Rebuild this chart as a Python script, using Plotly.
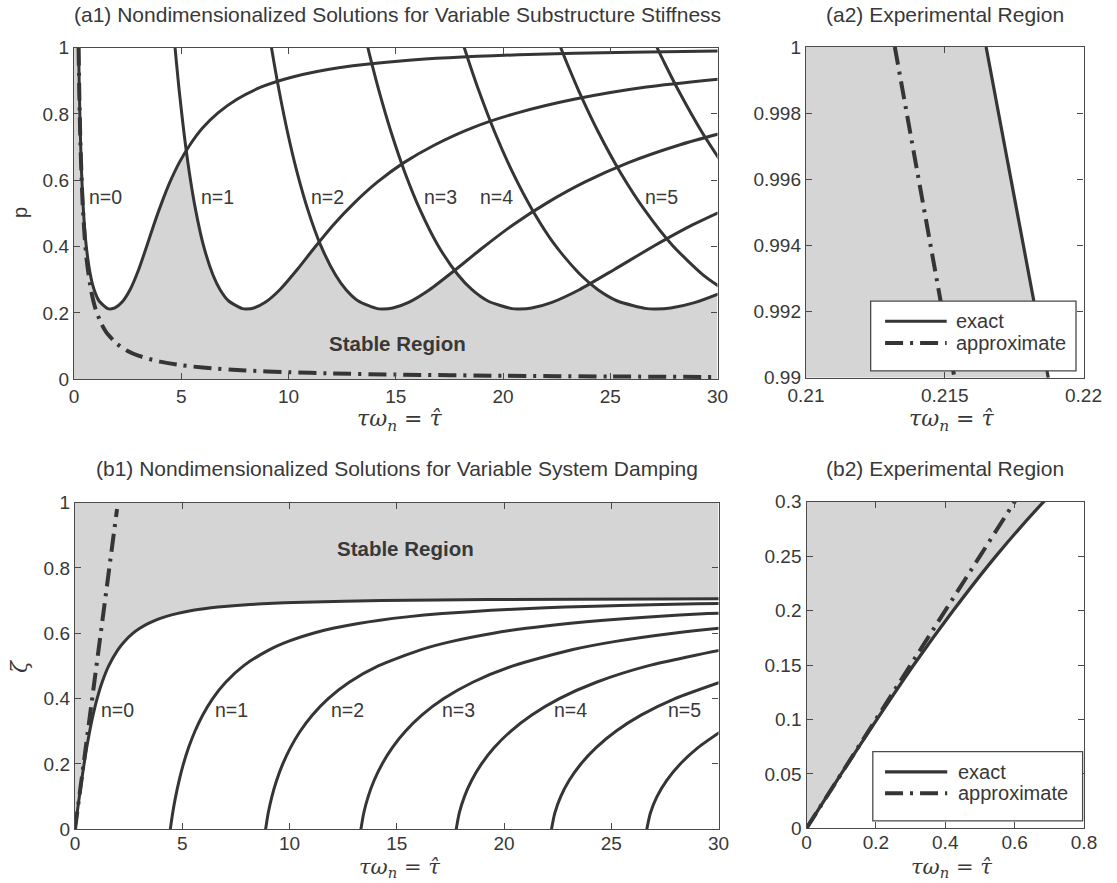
import plotly.graph_objects as go

# ======================= DATA =======================
# (a1) p along the solution curves (shared by every n) and tau-hat of each branch
a1_p = [1.000, 0.978, 0.951, 0.871, 0.743, 0.622, 0.509, 0.405, 0.315, 0.270, 0.236,
        0.213, 0.212, 0.215, 0.232, 0.270, 0.331, 0.398, 0.466, 0.531, 0.594, 0.653,
        0.707, 0.758, 0.803, 0.844, 0.881, 0.912, 0.939, 0.961, 0.978, 0.986, 0.990]
a1_tau_n0 = [0.216, 0.221, 0.228, 0.249, 0.294, 0.354, 0.438, 0.565, 0.764, 0.939, 1.171,
             1.571, 1.697, 1.906, 2.231, 2.613, 3.016, 3.374, 3.722, 4.082, 4.471, 4.907,
             5.409, 6.001, 6.715, 7.601, 8.734, 10.238, 12.339, 15.486, 20.726, 25.964, 31.201]
a1_tau_n1 = [4.711, 4.742, 4.781, 4.903, 5.127, 5.380, 5.674, 6.028, 6.475, 6.811, 7.213,
             7.854, 8.053, 8.384, 8.916, 9.594, 10.408, 11.228, 12.099, 13.058, 14.138,
             15.380, 16.833, 18.567, 20.678, 23.309, 26.686, 31.182]
a1_tau_n2 = [9.205, 9.262, 9.334, 9.558, 9.960, 10.407, 10.910, 11.492, 12.187, 12.683,
             13.254, 14.137, 14.409, 14.861, 15.600, 16.575, 17.800, 19.082, 20.477,
             22.034, 23.804, 25.851, 28.257, 31.134]
a1_tau_n3 = [13.699, 13.782, 13.887, 14.212, 14.793, 15.433, 16.146, 16.956, 17.899,
             18.555, 19.296, 20.420, 20.765, 21.339, 22.284, 23.557, 25.192, 26.936,
             28.854, 31.010]
a1_tau_n4 = [18.193, 18.302, 18.440, 18.866, 19.626, 20.460, 21.382, 22.419, 23.611,
             24.427, 25.337, 26.704, 27.120, 27.816, 28.968, 30.538]
a1_tau_n5 = [22.687, 22.823, 22.993, 23.520, 24.460, 25.486, 26.618, 27.883, 29.323, 30.300]
a1_tau_n6 = [27.181, 27.343, 27.546, 28.175, 29.293, 30.513]

a1_approx_tau = [0.2132, 0.25, 0.3, 0.4, 0.5, 0.6, 0.8, 1.0, 1.25, 1.5, 2, 2.5, 3, 4, 5,
                 6, 8, 10, 12, 15, 20, 25, 30]
a1_approx_p = [1.0, 0.853, 0.711, 0.533, 0.426, 0.355, 0.267, 0.213, 0.171, 0.142, 0.107,
               0.0853, 0.0711, 0.0533, 0.0426, 0.0355, 0.0267, 0.0213, 0.0178, 0.0142,
               0.0107, 0.0085, 0.0071]

# lower envelope of all branches = stable region of (a1)
a1_stable_tau = [0, 0, 0.216, 0.221, 0.228, 0.249, 0.294, 0.354, 0.438, 0.565, 0.764,
                 0.939, 1.171, 1.571, 1.697, 1.906, 2.231, 2.613, 3.016, 3.374, 3.722,
                 4.082, 4.471, 4.907, 5.241, 5.380, 5.674, 6.028, 6.475, 6.811, 7.213,
                 7.854, 8.053, 8.384, 8.916, 9.594, 10.408, 11.228, 11.438, 11.492,
                 12.187, 12.683, 13.254, 14.137, 14.409, 14.861, 15.600, 16.575, 17.751,
                 17.899, 18.555, 19.296, 20.420, 20.765, 21.339, 22.284, 23.557, 24.075,
                 24.427, 25.337, 26.704, 27.120, 27.816, 28.968, 30, 30]
a1_stable_p = [0, 1, 1.000, 0.978, 0.951, 0.871, 0.743, 0.622, 0.509, 0.405, 0.315,
               0.270, 0.236, 0.213, 0.212, 0.215, 0.232, 0.270, 0.331, 0.398, 0.466,
               0.531, 0.594, 0.653, 0.689, 0.622, 0.509, 0.405, 0.315, 0.270, 0.236,
               0.213, 0.212, 0.215, 0.232, 0.270, 0.331, 0.398, 0.415, 0.405,
               0.315, 0.270, 0.236, 0.213, 0.212, 0.215, 0.232, 0.270, 0.329,
               0.315, 0.270, 0.236, 0.213, 0.212, 0.215, 0.232, 0.270, 0.289,
               0.270, 0.236, 0.213, 0.212, 0.215, 0.232, 0.257, 0]

a1_labels = ["n=0", "n=1", "n=2", "n=3", "n=4", "n=5"]
a1_label_tau = [1.47, 6.68, 11.8, 17.1, 19.7, 27.4]
a1_label_p = [0.55, 0.55, 0.55, 0.55, 0.55, 0.55]

# (a2) zoom of the experimental region
a2_p = [1.0, 0.995, 0.99]
a2_exact_tau = [0.21649, 0.21761, 0.21873]
a2_approx_tau = [0.21320, 0.21427, 0.21535]
a2_stable_tau = [0.21, 0.21, 0.21649, 0.21873]
a2_stable_p = [0.99, 1.0, 1.0, 0.99]

# (b1) damping ratio zeta along the solution curves (shared by every n)
b1_zeta = [0, 0.05, 0.1, 0.15, 0.2, 0.25, 0.3, 0.35, 0.4, 0.45, 0.5, 0.55, 0.575, 0.6,
           0.615, 0.63, 0.64, 0.65, 0.66, 0.67, 0.675, 0.68, 0.685, 0.69, 0.695, 0.7,
           0.703, 0.705, 0.706]
b1_tau_n0 = [0, 0.100, 0.203, 0.309, 0.423, 0.546, 0.684, 0.843, 1.031, 1.265, 1.571,
             2.005, 2.307, 2.708, 3.022, 3.424, 3.764, 4.189, 4.743, 5.509, 6.021, 6.668,
             7.525, 8.735, 10.634, 14.289, 19.225, 27.383, 38.304]
b1_tau_n1 = [4.443, 4.554, 4.691, 4.856, 5.055, 5.296, 5.591, 5.956, 6.419, 7.024, 7.854,
             9.074, 9.941, 11.104, 12.025, 13.208, 14.212, 15.474, 17.123, 19.407, 20.934,
             22.870, 25.433, 29.056, 34.747]
b1_tau_n2 = [8.886, 9.008, 9.179, 9.402, 9.687, 10.046, 10.497, 11.069, 11.807, 12.784,
             14.137, 16.144, 17.574, 19.500, 21.028, 22.992, 24.661, 26.759, 29.503, 33.305]
b1_tau_n3 = [13.329, 13.462, 13.667, 13.948, 14.319, 14.795, 15.403, 16.182, 17.195,
             18.544, 20.420, 23.213, 25.208, 27.897, 30.030, 32.776]
b1_tau_n4 = [17.772, 17.916, 18.155, 18.495, 18.951, 19.545, 20.310, 21.296, 22.582,
             24.304, 26.704, 30.282, 32.841]
b1_tau_n5 = [22.214, 22.371, 22.643, 23.041, 23.583, 24.295, 25.216, 26.409, 27.970, 30.064]
b1_tau_n6 = [26.657, 26.825, 27.131, 27.587, 28.215, 29.044, 30.122]

b1_approx_tau = [0, 1.96]
b1_approx_zeta = [0, 0.98]

b1_stable_tau = [0, 0, 0.100, 0.203, 0.309, 0.423, 0.546, 0.684, 0.843, 1.031, 1.265,
                 1.571, 2.005, 2.307, 2.708, 3.022, 3.424, 3.764, 4.189, 4.743, 5.509,
                 6.021, 6.668, 7.525, 8.735, 10.634, 14.289, 19.225, 27.383, 30, 30]
b1_stable_zeta = [1, 0, 0.05, 0.1, 0.15, 0.2, 0.25, 0.3, 0.35, 0.4, 0.45, 0.5, 0.55,
                  0.575, 0.6, 0.615, 0.63, 0.64, 0.65, 0.66, 0.67, 0.675, 0.68, 0.685,
                  0.69, 0.695, 0.7, 0.703, 0.705, 0.7052, 1]

b1_labels = ["n=0", "n=1", "n=2", "n=3", "n=4", "n=5"]
b1_label_tau = [1.98, 7.3, 12.7, 17.86, 23.1, 28.4]
b1_label_zeta = [0.365, 0.365, 0.365, 0.365, 0.365, 0.365]

# tick values / labels
a1_xticks = [0, 5, 10, 15, 20, 25, 30]
a1_xticktext = ["0", "5", "10", "15", "20", "25", "30"]
a1_yticks = [0, 0.2, 0.4, 0.6, 0.8, 1]
a1_yticktext = ["0", "0.2", "0.4", "0.6", "0.8", "1"]
a2_xticks = [0.21, 0.215, 0.22]
a2_xticktext = ["0.21", "0.215", "0.22"]
a2_yticks = [0.99, 0.992, 0.994, 0.996, 0.998, 1.0]
a2_yticktext = ["0.99", "0.992", "0.994", "0.996", "0.998", "1"]
b2_xticks = [0, 0.2, 0.4, 0.6, 0.8]
b2_xticktext = ["0", "0.2", "0.4", "0.6", "0.8"]
b2_yticks = [0, 0.05, 0.1, 0.15, 0.2, 0.25, 0.3]
b2_yticktext = ["0", "0.05", "0.1", "0.15", "0.2", "0.25", "0.3"]

# ======================= STYLE =======================
W, H = 1117, 883
LINE = "#353535"
AXC = "#4a4a4a"
SHADE = "#d5d5d5"
TXT = "#383838"
SANS = "Liberation Sans, Arial, Helvetica, sans-serif"
SERIF = "DejaVu Serif, Liberation Serif, serif"
DASHDOT = "18px,7px,3px,7px"


def px_x(v):
    return v / W


def px_y(v):
    return 1 - v / H


fig = go.Figure()


def add_line(x, y, xa, ya, width=3.0, dash="solid", shape="spline"):
    fig.add_trace(go.Scatter(x=x, y=y, mode="lines", xaxis=xa, yaxis=ya,
                             line=dict(color=LINE, width=width, dash=dash, shape=shape,
                                       smoothing=0.7 if shape == "spline" else None),
                             showlegend=False, hoverinfo="skip"))


def add_fill(x, y, xa, ya):
    fig.add_trace(go.Scatter(x=x, y=y, mode="lines", fill="toself", fillcolor=SHADE,
                             line=dict(width=0, color=SHADE), xaxis=xa, yaxis=ya,
                             showlegend=False, hoverinfo="skip"))


# ---- (a1)
add_fill(a1_stable_tau, a1_stable_p, "x", "y")
for tau in [a1_tau_n0, a1_tau_n1, a1_tau_n2, a1_tau_n3, a1_tau_n4, a1_tau_n5, a1_tau_n6]:
    add_line(tau, a1_p[:len(tau)], "x", "y")
add_line(a1_approx_tau, a1_approx_p, "x", "y", width=4, dash=DASHDOT)

# ---- (a2)
add_fill(a2_stable_tau, a2_stable_p, "x2", "y2")
add_line(a2_exact_tau, a2_p, "x2", "y2", width=3.2, shape="linear")
add_line(a2_approx_tau, a2_p, "x2", "y2", width=4, dash=DASHDOT, shape="linear")

# ---- (b1)
add_fill(b1_stable_tau, b1_stable_zeta, "x3", "y3")
for tau in [b1_tau_n0, b1_tau_n1, b1_tau_n2, b1_tau_n3, b1_tau_n4, b1_tau_n5, b1_tau_n6]:
    add_line(tau, b1_zeta[:len(tau)], "x3", "y3")
add_line(b1_approx_tau, b1_approx_zeta, "x3", "y3", width=4, dash=DASHDOT, shape="linear")

# ---- (b2)
add_fill(b1_stable_tau, b1_stable_zeta, "x4", "y4")
add_line(b1_tau_n0, b1_zeta, "x4", "y4", width=3.2)
add_line(b1_approx_tau, b1_approx_zeta, "x4", "y4", width=4, dash=DASHDOT, shape="linear")


def axis(domain, rng, tickvals, ticktext, anchor, standoff=0):
    return dict(domain=domain, range=rng, tickvals=tickvals, ticktext=ticktext,
                anchor=anchor, automargin=False, showline=True, linecolor=AXC,
                linewidth=1.4, mirror="ticks", ticks="inside", ticklen=6, tickwidth=1.2,
                tickcolor=AXC, showgrid=False, zeroline=False, fixedrange=True,
                ticklabelstandoff=standoff,
                tickfont=dict(family=SANS, size=19, color=TXT))


# pixel boxes of the four panels
a1_box = (74.0, 717.5, 47.5, 379.3)
a2_box = (806.0, 1083.5, 47.0, 377.8)
b1_box = (75.0, 718.5, 502.5, 829.3)
b2_box = (806.5, 1084.0, 501.7, 828.3)


def dom(box):
    x0, x1, yt, yb = box
    return [px_x(x0), px_x(x1)], [px_y(yb), px_y(yt)]


d_a1 = dom(a1_box)
d_a2 = dom(a2_box)
d_b1 = dom(b1_box)
d_b2 = dom(b2_box)

fig.update_layout(
    template="none",
    width=W, height=H, margin=dict(l=0, r=0, t=0, b=0, autoexpand=False),
    paper_bgcolor="white", plot_bgcolor="white", hovermode=False,
    xaxis=axis(d_a1[0], [0, 30], a1_xticks, a1_xticktext, "y"),
    yaxis=axis(d_a1[1], [0, 1], a1_yticks, a1_yticktext, "x"),
    xaxis2=axis(d_a2[0], [0.21, 0.22], a2_xticks, a2_xticktext, "y2"),
    yaxis2=axis(d_a2[1], [0.99, 1.0], a2_yticks, a2_yticktext, "x2"),
    xaxis3=axis(d_b1[0], [0, 30], a1_xticks, a1_xticktext, "y3", standoff=-3),
    yaxis3=axis(d_b1[1], [0, 1], a1_yticks, a1_yticktext, "x3"),
    xaxis4=axis(d_b2[0], [0, 0.8], b2_xticks, b2_xticktext, "y4", standoff=-3),
    yaxis4=axis(d_b2[1], [0, 0.3], b2_yticks, b2_yticktext, "x4"),
)

ann = []


def text(x, y, s, size=19, family=SANS, xref="paper", yref="paper", xanchor="center",
         yanchor="middle", angle=0):
    ann.append(dict(x=x, y=y, text=s, xref=xref, yref=yref, showarrow=False,
                    xanchor=xanchor, yanchor=yanchor, textangle=angle,
                    font=dict(family=family, size=size, color=TXT)))


# panel titles
text(px_x(397), px_y(15), "(a1) Nondimensionalized Solutions for Variable Substructure Stiffness", size=21)
text(px_x(945), px_y(15), "(a2) Experimental Region", size=21)
text(px_x(397), px_y(469), "(b1) Nondimensionalized Solutions for Variable System Damping", size=21)
text(px_x(945), px_y(469), "(b2) Experimental Region", size=21)

# x-axis titles
xt = "<i>τω</i><sub><i>n</i></sub> = <i>τ̂</i>"
for cx, ty in [(399, 404), (951, 404)]:
    text(px_x(cx), px_y(ty), xt, size=22, family=SERIF, yanchor="top")
for cx, by in [(399, 882.5), (951, 882.5)]:
    text(px_x(cx), px_y(by), xt, size=21, family=SERIF, yanchor="bottom")

# y-axis titles
text(px_x(20), px_y(213), "p", size=20, angle=-90)
text(px_x(19), px_y(666), "<i>ζ</i>", size=22, family=SERIF, angle=-90)

# branch labels
for s, xv, yv in zip(a1_labels, a1_label_tau, a1_label_p):
    text(xv, yv, s, size=19.5, xref="x", yref="y")
for s, xv, yv in zip(b1_labels, b1_label_tau, b1_label_zeta):
    text(xv, yv, s, size=19.5, xref="x3", yref="y3")
text(15.1, 0.108, "<b>Stable Region</b>", size=20.5, xref="x", yref="y")
text(15.4, 0.86, "<b>Stable Region</b>", size=20.5, xref="x3", yref="y3")

# manual legends (long line samples as in the reference)
shapes = []


def legend_box(xa, ya, bx0, bx1, by0, by1, lx0, lx1, ly_exact, ly_approx, tx):
    xr, yr = xa + " domain", ya + " domain"
    shapes.append(dict(type="rect", xref=xr, yref=yr, x0=bx0, x1=bx1, y0=by0, y1=by1,
                       line=dict(color=AXC, width=1.3), fillcolor="white", layer="above"))
    shapes.append(dict(type="line", xref=xr, yref=yr, x0=lx0, x1=lx1, y0=ly_exact,
                       y1=ly_exact, line=dict(color=LINE, width=3.2), layer="above"))
    shapes.append(dict(type="line", xref=xr, yref=yr, x0=lx0, x1=lx1, y0=ly_approx,
                       y1=ly_approx, line=dict(color=LINE, width=4, dash=DASHDOT),
                       layer="above"))
    text(tx, ly_exact, "exact", size=20, xref=xr, yref=yr, xanchor="left")
    text(tx, ly_approx, "approximate", size=20, xref=xr, yref=yr, xanchor="left")


legend_box("x2", "y2", 0.233, 0.973, 0.021, 0.232, 0.285, 0.507, 0.171, 0.105, 0.535)
legend_box("x4", "y4", 0.239, 0.995, 0.023, 0.235, 0.283, 0.507, 0.173, 0.107, 0.537)

fig.update_layout(annotations=ann, shapes=shapes)
fig.write_html("out.html")
